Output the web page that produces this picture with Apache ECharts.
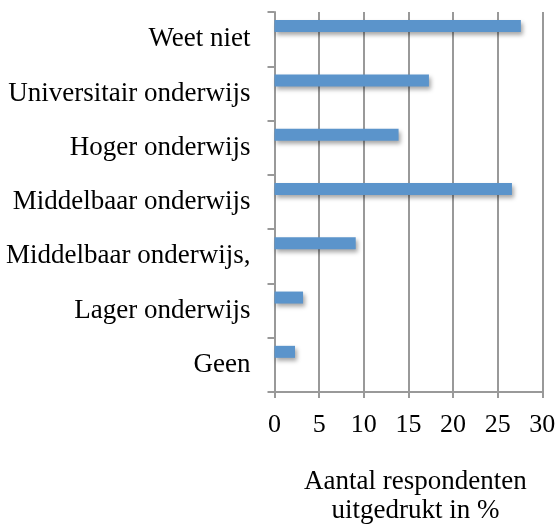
<!DOCTYPE html>
<html>
<head>
<meta charset="utf-8">
<script src="https://cdn.jsdelivr.net/npm/echarts@6/dist/echarts.min.js"></script>
<style>
  html, body { margin: 0; padding: 0; background: #fff; }
  #chart { width: 557px; height: 525px; }
</style>
</head>
<body>
<div id="chart"></div>
<script>
// opleidingsniveau, van onder naar boven
var categories = ["Geen", "Lager onderwijs", "Middelbaar onderwijs,", "Middelbaar onderwijs", "Hoger onderwijs", "Universitair onderwijs", "Weet niet"];
var percentages = [2.3, 3.2, 9.1, 26.6, 13.9, 17.3, 27.6];
var xTicks = { min: 0, max: 30, interval: 5 };
var axisTitle = "Aantal respondenten\nuitgedrukt in %";

var myecharts = echarts.init(document.getElementById("chart"));
var font = "'Liberation Serif', 'DejaVu Serif', serif";

myecharts.setOption({
  animation: false,
  grid: {
    left: 274.5,
    right: 14.7,
    top: 12,
    bottom: 133,
    containLabel: false,
    outerBoundsMode: "none",
  },
  xAxis: {
    type: "value",
    min: xTicks.min,
    max: xTicks.max,
    interval: xTicks.interval,
    axisLine: { show: true, lineStyle: { color: "#999", width: 2 } },
    axisTick: { show: true, length: 6, lineStyle: { color: "#999", width: 2 } },
    splitLine: { show: true, lineStyle: { color: "#999", width: 2 } },
    axisLabel: { color: "#000", fontFamily: font, fontSize: 26, margin: 20 },
    name: axisTitle,
    nameLocation: "middle",
    nameGap: 75,
    nameTextStyle: { color: "#000", fontFamily: font, fontSize: 27, lineHeight: 29, padding: [0, 0, 0, 14] },
  },
  yAxis: {
    type: "category",
    data: categories,
    axisLine: { show: true, lineStyle: { color: "#999", width: 2 } },
    axisTick: { show: true, length: 7, lineStyle: { color: "#999", width: 2 } },
    splitLine: { show: false },
    axisLabel: { color: "#000", fontFamily: font, fontSize: 27, margin: 24 },
  },
  series: [
    {
      name: "Percentage",
      type: "bar",
      data: percentages,
      barWidth: 12,
      barGap: "117%",
      itemStyle: {
        color: "#5b94cb",
        shadowBlur: 4,
        shadowOffsetX: 2,
        shadowOffsetY: 3,
        shadowColor: "rgba(0,0,0,0.35)",
      },
    },
    {
      name: "leeg",
      type: "bar",
      data: [],
      barWidth: 12,
    },
  ],
});
</script>
</body>
</html>
